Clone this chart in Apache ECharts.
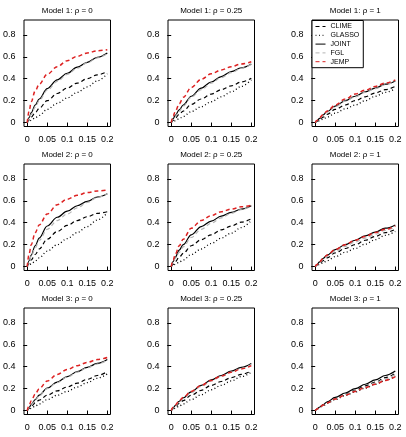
<!DOCTYPE html>
<html>
<head>
<meta charset="utf-8">
<script src="https://cdn.jsdelivr.net/npm/echarts@6/dist/echarts.min.js"></script>
<style>
html,body{margin:0;padding:0;background:#fff;}
#chart{width:406px;height:437px;}
</style>
</head>
<body>
<div id="chart"></div>
<script>
const xValues = [0, 0.005, 0.01, 0.02, 0.03, 0.05, 0.075, 0.1, 0.125, 0.15, 0.175, 0.2];
const xTicks = [0, 0.05, 0.1, 0.15, 0.2];
const yTicks = [0, 0.2, 0.4, 0.6, 0.8];
const panelTitles = [
  'Model 1: ρ = 0', 'Model 1: ρ = 0.25', 'Model 1: ρ = 1',
  'Model 2: ρ = 0', 'Model 2: ρ = 0.25', 'Model 2: ρ = 1',
  'Model 3: ρ = 0', 'Model 3: ρ = 0.25', 'Model 3: ρ = 1'
];
const methods = ['CLIME', 'GLASSO', 'JOINT', 'FGL', 'JEMP'];

const CLIME = [
  [0, 0.025, 0.05, 0.09, 0.13, 0.2, 0.265, 0.315, 0.36, 0.4, 0.435, 0.465],
  [0, 0.02, 0.04, 0.075, 0.105, 0.165, 0.215, 0.26, 0.3, 0.335, 0.37, 0.405],
  [0, 0.013, 0.025, 0.05, 0.075, 0.12, 0.16, 0.2, 0.235, 0.27, 0.3, 0.33],
  [0, 0.03, 0.06, 0.11, 0.16, 0.25, 0.32, 0.375, 0.42, 0.455, 0.485, 0.5],
  [0, 0.02, 0.045, 0.085, 0.12, 0.19, 0.245, 0.29, 0.335, 0.37, 0.405, 0.435],
  [0, 0.014, 0.028, 0.055, 0.08, 0.125, 0.165, 0.2, 0.24, 0.275, 0.31, 0.34],
  [0, 0.02, 0.04, 0.07, 0.095, 0.14, 0.18, 0.215, 0.25, 0.285, 0.32, 0.355],
  [0, 0.018, 0.035, 0.065, 0.09, 0.14, 0.185, 0.23, 0.265, 0.3, 0.33, 0.36],
  [0, 0.013, 0.026, 0.05, 0.072, 0.11, 0.15, 0.185, 0.225, 0.26, 0.3, 0.34]
];
const GLASSO = [
  [0, 0.01, 0.02, 0.045, 0.065, 0.12, 0.175, 0.225, 0.275, 0.325, 0.38, 0.445],
  [0, 0.008, 0.016, 0.035, 0.055, 0.1, 0.145, 0.19, 0.235, 0.28, 0.33, 0.39],
  [0, 0.008, 0.015, 0.033, 0.05, 0.085, 0.125, 0.16, 0.2, 0.24, 0.275, 0.31],
  [0, 0.012, 0.025, 0.05, 0.08, 0.14, 0.2, 0.255, 0.31, 0.365, 0.425, 0.49],
  [0, 0.01, 0.02, 0.04, 0.06, 0.11, 0.16, 0.21, 0.26, 0.305, 0.355, 0.42],
  [0, 0.009, 0.018, 0.036, 0.054, 0.09, 0.13, 0.165, 0.205, 0.245, 0.285, 0.32],
  [0, 0.01, 0.02, 0.04, 0.06, 0.1, 0.14, 0.175, 0.215, 0.255, 0.295, 0.335],
  [0, 0.01, 0.02, 0.04, 0.06, 0.1, 0.145, 0.19, 0.23, 0.27, 0.31, 0.35],
  [0, 0.012, 0.024, 0.045, 0.065, 0.1, 0.137, 0.17, 0.205, 0.24, 0.275, 0.315]
];
const JOINT = [
  [0, 0.045, 0.09, 0.16, 0.215, 0.31, 0.39, 0.45, 0.505, 0.55, 0.595, 0.635],
  [0, 0.035, 0.065, 0.115, 0.16, 0.24, 0.315, 0.37, 0.42, 0.465, 0.5, 0.535],
  [0, 0.02, 0.035, 0.07, 0.1, 0.15, 0.2, 0.24, 0.28, 0.315, 0.35, 0.38],
  [0, 0.055, 0.105, 0.19, 0.26, 0.37, 0.45, 0.505, 0.555, 0.595, 0.635, 0.665],
  [0, 0.045, 0.085, 0.15, 0.2, 0.29, 0.365, 0.415, 0.46, 0.495, 0.525, 0.555],
  [0, 0.02, 0.04, 0.075, 0.105, 0.155, 0.2, 0.24, 0.28, 0.315, 0.35, 0.38],
  [0, 0.03, 0.055, 0.1, 0.14, 0.205, 0.26, 0.31, 0.355, 0.395, 0.43, 0.465],
  [0, 0.025, 0.045, 0.085, 0.115, 0.17, 0.23, 0.28, 0.32, 0.36, 0.395, 0.43],
  [0, 0.015, 0.03, 0.055, 0.08, 0.12, 0.16, 0.2, 0.24, 0.28, 0.32, 0.36]
];
const FGL = [
  [0, 0.04, 0.075, 0.14, 0.2, 0.295, 0.375, 0.44, 0.495, 0.545, 0.59, 0.63],
  [0, 0.03, 0.055, 0.1, 0.15, 0.23, 0.3, 0.36, 0.41, 0.455, 0.495, 0.53],
  [0, 0.018, 0.033, 0.067, 0.095, 0.145, 0.195, 0.235, 0.275, 0.31, 0.345, 0.378],
  [0, 0.05, 0.095, 0.17, 0.24, 0.34, 0.42, 0.48, 0.535, 0.585, 0.63, 0.665],
  [0, 0.04, 0.075, 0.13, 0.18, 0.265, 0.34, 0.395, 0.445, 0.485, 0.52, 0.55],
  [0, 0.017, 0.034, 0.065, 0.093, 0.14, 0.185, 0.225, 0.26, 0.295, 0.33, 0.36],
  [0, 0.027, 0.05, 0.095, 0.135, 0.2, 0.255, 0.305, 0.35, 0.39, 0.425, 0.46],
  [0, 0.022, 0.042, 0.08, 0.11, 0.165, 0.22, 0.27, 0.31, 0.35, 0.385, 0.42],
  [0, 0.013, 0.025, 0.048, 0.07, 0.107, 0.145, 0.18, 0.215, 0.25, 0.29, 0.33]
];
const JEMP = [
  [0, 0.11, 0.19, 0.29, 0.35, 0.44, 0.51, 0.565, 0.605, 0.635, 0.655, 0.665],
  [0, 0.06, 0.1, 0.17, 0.23, 0.32, 0.395, 0.445, 0.48, 0.51, 0.535, 0.555],
  [0, 0.02, 0.04, 0.075, 0.105, 0.16, 0.215, 0.26, 0.295, 0.33, 0.36, 0.39],
  [0, 0.12, 0.2, 0.31, 0.38, 0.48, 0.565, 0.615, 0.65, 0.675, 0.69, 0.7],
  [0, 0.06, 0.11, 0.19, 0.25, 0.35, 0.42, 0.465, 0.5, 0.525, 0.545, 0.56],
  [0, 0.02, 0.04, 0.075, 0.105, 0.155, 0.2, 0.24, 0.275, 0.31, 0.34, 0.37],
  [0, 0.05, 0.09, 0.15, 0.2, 0.27, 0.33, 0.375, 0.41, 0.44, 0.465, 0.485],
  [0, 0.03, 0.05, 0.09, 0.12, 0.175, 0.23, 0.275, 0.315, 0.35, 0.38, 0.41],
  [0, 0.014, 0.027, 0.05, 0.07, 0.105, 0.14, 0.175, 0.21, 0.24, 0.275, 0.31]
];

const seriesValues = { CLIME: CLIME, GLASSO: GLASSO, JOINT: JOINT, FGL: FGL, JEMP: JEMP };
const styles = {
  CLIME:  { color: '#000000', type: [4, 3], width: 1.2 },
  GLASSO: { color: '#000000', type: [1, 2.5], width: 1.3 },
  JOINT:  { color: '#000000', type: 'solid', width: 1.2 },
  FGL:    { color: '#b4b4b4', type: [4, 3], width: 1.2 },
  JEMP:   { color: '#dd2222', type: [4, 3], width: 1.5 }
};

const FONT = '"Liberation Sans", Arial, Helvetica, sans-serif';
const colLefts = [24, 168, 312];
const rowTops = [20, 164, 308];
const gw = 86.5, gh = 106.5;

const grids = [], xAxes = [], yAxes = [], titles = [], series = [];
for (let i = 0; i < 9; i++) {
  const r = Math.floor(i / 3), c = i % 3;
  grids.push({ left: colLefts[c], top: rowTops[r], width: gw, height: gh,
    show: true, borderColor: '#000', borderWidth: 1, backgroundColor: 'transparent' });
  xAxes.push({
    gridIndex: i, type: 'value', min: -0.008, max: 0.208,
    splitLine: { show: false }, axisLine: { show: false },
    axisTick: { show: true, length: 4, customValues: xTicks, lineStyle: { color: '#000', width: 1 } },
    axisLabel: { customValues: xTicks, color: '#000', fontSize: 9, fontFamily: FONT, margin: 9,
      formatter: v => String(+v.toFixed(2)) }
  });
  yAxes.push({
    gridIndex: i, type: 'value', min: -0.036, max: 0.936,
    splitLine: { show: false }, axisLine: { show: false },
    axisTick: { show: true, length: 4, customValues: yTicks, lineStyle: { color: '#000', width: 1 } },
    axisLabel: { customValues: yTicks, color: '#000', fontSize: 9, fontFamily: FONT, margin: 8.5,
      formatter: v => String(+v.toFixed(1)) }
  });
  titles.push({
    text: panelTitles[i], left: colLefts[c] + gw / 2, top: rowTops[r] - 13, textAlign: 'center', padding: 0,
    textStyle: { fontSize: 8, fontWeight: 'normal', color: '#000', fontFamily: FONT }
  });
  methods.forEach(m => {
    const st = styles[m];
    series.push({
      name: m, type: 'line', xAxisIndex: i, yAxisIndex: i,
      data: xValues.map((x, k) => [x, seriesValues[m][i][k]]),
      symbol: 'none', smooth: 0.35, smoothMonotone: 'x',
      lineStyle: { color: st.color, type: st.type, width: st.width },
      itemStyle: { color: st.color },
      silent: true
    });
  });
}

const chart = echarts.init(document.getElementById('chart'), null, { renderer: 'canvas' });
chart.setOption({
  animation: false,
  backgroundColor: '#fff',
  title: titles,
  grid: grids,
  xAxis: xAxes,
  yAxis: yAxes,
  legend: {
    data: methods, orient: 'vertical', left: 312, top: 20.5,
    itemWidth: 10, itemHeight: 7, itemGap: 1.8,
    padding: [2.5, 4, 2.5, 3],
    borderColor: '#000', borderWidth: 1, borderRadius: 0, backgroundColor: '#fff',
    selectedMode: false,
    itemStyle: { color: 'rgba(0,0,0,0)', borderWidth: 0, opacity: 0 },
    lineStyle: { width: 1 },
    textStyle: { fontSize: 7, color: '#000', fontFamily: FONT, lineHeight: 7 }
  },
  series: series
});
</script>
</body>
</html>
